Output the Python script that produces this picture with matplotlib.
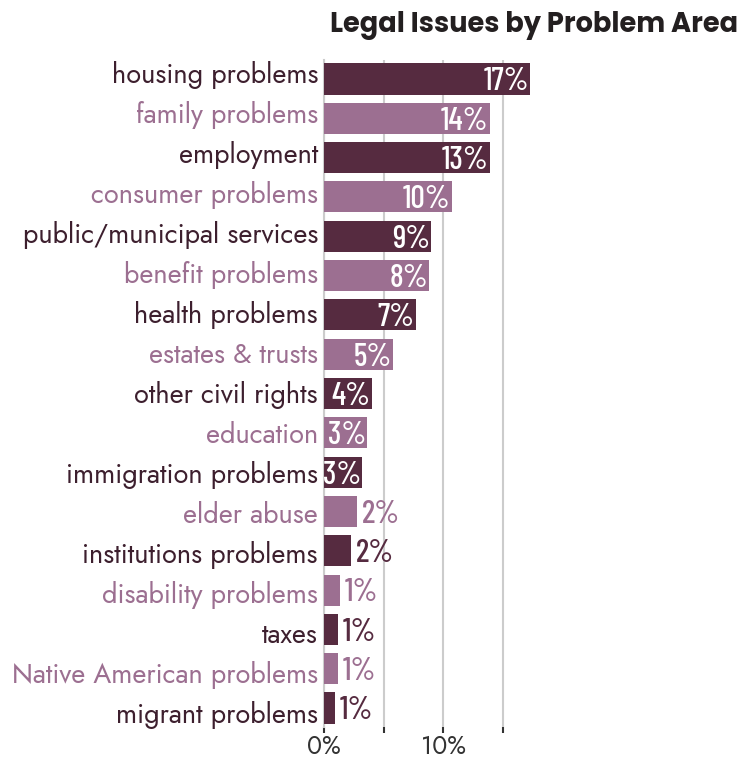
import matplotlib.pyplot as plt
import matplotlib.transforms as mtransforms

# data
categories = ['housing problems', 'family problems', 'employment',
              'consumer problems', 'public/municipal services',
              'benefit problems', 'health problems', 'estates & trusts',
              'other civil rights', 'education', 'immigration problems',
              'elder abuse', 'institutions problems', 'disability problems',
              'taxes', 'Native American problems', 'migrant problems']
shares = [17.3, 13.9, 13.9, 10.7, 9.0, 8.8, 7.7, 5.8, 4.0, 3.6, 3.2,
          2.8, 2.3, 1.3, 1.2, 1.2, 0.9]
shown = [17, 14, 13, 10, 9, 8, 7, 5, 4, 3, 3, 2, 2, 1, 1, 1, 1]

DARK = '#562b40'
LIGHT = '#9c6f91'
LABEL_FONT = ['Jost', 'DejaVu Sans']
VALUE_FONT = ['Barlow Condensed', 'DejaVu Sans']
TITLE_FONT = ['Poppins', 'DejaVu Sans']

fig = plt.figure(figsize=(7.42, 7.59), dpi=100)
ax = fig.add_axes([324 / 742, 1 - 727 / 759, (736 - 324) / 742, (727 - 60) / 759])

ys = list(range(len(categories)))
cols = [DARK if i % 2 == 0 else LIGHT for i in ys]
ax.barh(ys, shares, height=0.79, color=cols, zorder=3)

# value labels: white inside the bar, coloured outside for the short ones
for y, v, s, c in zip(ys, shares, shown, cols):
    if s >= 3:
        ax.text(v - 0.1, y + 0.29, f'{s}%', ha='right', va='baseline', color='white',
                fontsize=23, family=VALUE_FONT, fontweight='medium', zorder=4)
    else:
        ax.text(v + 0.4, y + 0.29, f'{s}%', ha='left', va='baseline', color=c,
                fontsize=23, family=VALUE_FONT, fontweight='medium', zorder=4)

# category names sit on a slightly looser grid than the bars (40px vs 39.3px)
trans = mtransforms.blended_transform_factory(ax.transAxes, ax.transData)
off = mtransforms.ScaledTranslation(-6 / 100, 0, fig.dpi_scale_trans)
for y, name, c in zip(ys, categories, cols):
    ax.text(0, y * 1.0176 + 0.1, name, ha='right', va='baseline', fontsize=19.5,
            family=LABEL_FONT, color='#3d1f2e' if c == DARK else LIGHT,
            transform=trans + off)
ax.set_yticks([])

ax.set_xlim(0, (736 - 324) / 11.93)
ax.set_ylim(16.483, -0.483)
ax.set_xticks([0, 5, 10, 15])
ax.set_xticklabels(['0%', '', '10%', ''], fontsize=18, family=LABEL_FONT, color='#333333')
for lab in ax.get_xticklabels():
    lab.set_verticalalignment('baseline')
ax.tick_params(axis='x', length=4, width=1.5, color='#333333', pad=15.5)
ax.xaxis.grid(True, color='#cccccc', lw=1.5, zorder=0)
for s in ['top', 'right', 'bottom']:
    ax.spines[s].set_visible(False)
ax.spines['left'].set_color('#cccccc')
ax.spines['left'].set_linewidth(1.5)

title = fig.text(738 / 742, 1 - 32 / 759, 'Legal Issues by Problem Area', ha='right',
                 va='baseline', fontsize=16, fontweight='bold', color='#231f20',
                 family=TITLE_FONT)
# squeeze the title to the reference width (about 408px)
fig.canvas.draw()
w = title.get_window_extent().width
title.set_fontsize(16 * 408 / w)

fig.savefig('out.png', dpi=100)
